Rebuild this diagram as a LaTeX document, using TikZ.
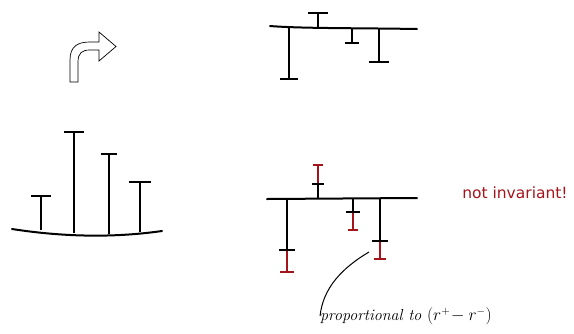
\documentclass[tikz,border=0pt]{standalone}
\usepackage{fontspec}
\usepackage{amsmath}
\usetikzlibrary{positioning,calc}
\newfontfamily\notefont{DejaVu Sans}
\definecolor{errc}{HTML}{A3141B}
\tikzset{
  axis/.style={line width=2pt, line cap=round},
  stem/.style={line width=1.8pt},
  tbar/.style={line width=2.8pt},
  redstem/.style={draw=errc, line width=1.5pt},
  redbar/.style={draw=errc, line width=2.4pt},
  turn/.style={draw, line width=0.7pt, fill=white, line join=miter},
  lbl/.style={font=\fontsize{16}{16}\selectfont\itshape, inner sep=0pt},
  warn/.style={font=\notefont\fontsize{15.5}{15.5}\selectfont, text=errc, inner sep=0pt},
}

\begin{document}
\begin{tikzpicture}[x=1pt, y=-1pt]
  \useasboundingbox (0,0) rectangle (574,333);

  % turn arrow
  \draw[turn] (70,82) -- (70,60) .. controls (70,46) and (78,42) .. (90,42)
    -- (99,42) -- (99,32) -- (116,46.5) -- (99,61) -- (99,50) -- (90,50)
    .. controls (82,50) and (78,53) .. (78,62) -- (78,82) -- cycle;

  % left: original signal
  \draw[axis] (12,229) .. controls (70,238) and (120,237) .. (162,231);
  \foreach \x/\b/\y/\w in {41/230/196/10, 74/233/132/10, 109/234/154/8, 140/232/182/11} {
    \draw[stem] (\x,\b) -- (\x,\y);
    \draw[tbar] ({\x-\w},\y) -- ({\x+\w},\y);
  }

  % top right: transformed
  \draw[axis] (270,26) .. controls (300,28.5) and (360,28) .. (417,29);
  \foreach \x/\b/\y/\w in {289/27/79/9, 318/28/13/10, 352/28/43/7, 379/29/62/10} {
    \draw[stem] (\x,\b) -- (\x,\y);
    \draw[tbar] ({\x-\w},\y) -- ({\x+\w},\y);
  }

  % bottom right: with the difference in red
  \draw[axis] (267,199) -- (417,198);
  \foreach \x/\b/\y/\w/\r/\v in {287/199/250/8/272/7, 318/199/184/6/165/5,
                                 353/198/212/7/230/5, 380/198/241/8/259/6} {
    \draw[redstem] (\x,\y) -- (\x,\r);
    \draw[redbar] ({\x-\v},\r) -- ({\x+\v},\r);
    \draw[stem] (\x,\b) -- (\x,\y);
    \draw[tbar] ({\x-\w},\y) -- ({\x+\w},\y);
  }

  \node[warn] (inv) at (515,193) {not invariant!};

  \coordinate (note) at (369,252);
  \node[lbl] (prop) at (406,316) {proportional to $(r^{+}\!-r^{-})$};
  \draw[line width=1pt] (note) .. controls (342,268) and (323,288) .. (prop.west);
\end{tikzpicture}
\end{document}
